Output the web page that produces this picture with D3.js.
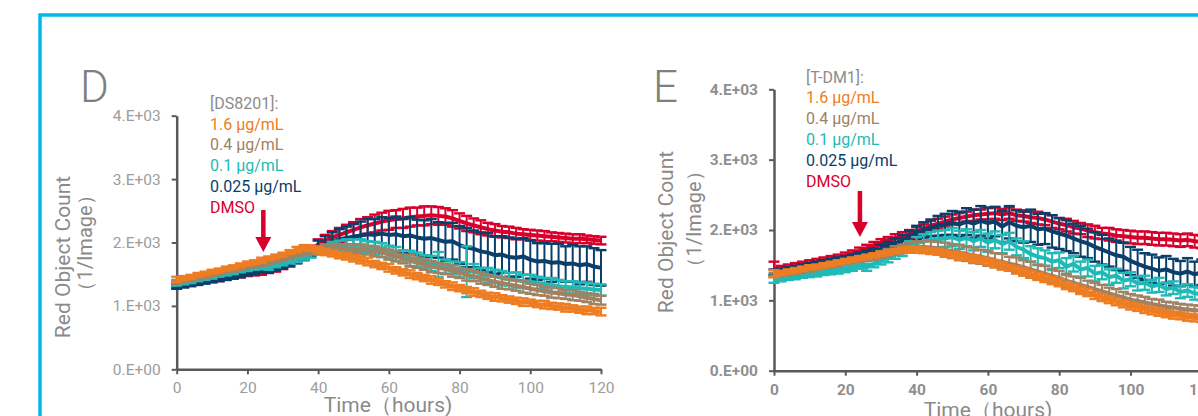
<!DOCTYPE html>
<html>
<head>
<meta charset="utf-8">
<script src="https://cdn.jsdelivr.net/npm/d3@7"></script>
<style>
  html, body { margin: 0; padding: 0; background: #fff; overflow: hidden; }
  svg { display: block; font-family: Roboto, "Noto Sans", sans-serif; }
</style>
</head>
<body>
<svg width="1198" height="416"></svg>
<script>
// sampling times (hours)
const hours = [0,2,4,6,8,10,12,14,16,18,20,22,24,26,28,30,32,34,36,38,40,42,44,46,48,50,
  52,54,56,58,60,62,64,66,68,70,72,74,76,78,80,82,84,86,88,90,92,94,96,98,100,102,104,106,
  108,110,112,114,116,118,120];

const yTicks = [0, 1, 2, 3, 4];           // x 1E+03
const xTicks = [0, 20, 40, 60, 80, 100, 120];

const doseLabels = ["1.6 \u00b5g/mL", "0.4 \u00b5g/mL", "0.1 \u00b5g/mL", "0.025 \u00b5g/mL", "DMSO"];
const doseColors = ["#EE7D22", "#A08263", "#1FBAB6", "#0A3F6C", "#D8002B"];

// ---- D: DS8201, red object count (x 1E+03 / image) ----
const ds16 = [1.42,1.44,1.46,1.49,1.51,1.54,1.56,1.59,1.61,1.64, 1.67,1.69,1.72,1.75,1.78,
  1.81,1.85,1.89,1.92,1.91, 1.88,1.85,1.83,1.80,1.78, 1.75,1.72,1.70,1.66,1.63,
  1.60,1.56,1.53,1.50,1.47, 1.44,1.41,1.38,1.34,1.31, 1.28,1.25,1.22,1.19,1.16,
  1.14,1.12,1.10,1.08,1.06, 1.05,1.03,1.02,1.00,0.99, 0.97,0.96,0.94,0.93,0.92, 0.91];
const ds04 = [1.38,1.40,1.42,1.45,1.47,1.50,1.52,1.55,1.57,1.60, 1.62,1.64,1.66,1.69,1.72,
  1.75,1.78,1.82,1.85,1.87, 1.88,1.90,1.91,1.91,1.90, 1.90,1.89,1.88,1.86,1.84,
  1.81,1.78,1.74,1.71,1.68, 1.65,1.62,1.60,1.58,1.55, 1.52,1.49,1.47,1.44,1.41,
  1.38,1.36,1.34,1.32,1.30, 1.27,1.25,1.23,1.21,1.20, 1.18,1.17,1.15,1.13,1.11, 1.09];
const ds01 = [1.35,1.37,1.39,1.42,1.44,1.46,1.49,1.51,1.53,1.56, 1.58,1.60,1.62,1.60,1.65,
  1.68,1.71,1.74,1.78,1.82, 1.87,1.90,1.93,1.95,1.96, 1.96,1.95,1.93,1.91,1.88,
  1.85,1.82,1.78,1.75,1.73, 1.70,1.67,1.65,1.62,1.60, 1.57,1.54,1.55,1.50,1.48,
  1.47,1.44,1.42,1.41,1.39, 1.38,1.36,1.35,1.33,1.31, 1.30,1.29,1.28,1.27,1.26, 1.25];
const ds0025 = [1.30,1.32,1.34,1.36,1.38,1.40,1.42,1.44,1.46,1.48, 1.51,1.53,1.57,1.56,1.60,
  1.64,1.68,1.73,1.79,1.86, 1.93,1.98,2.02,2.05,2.07, 2.09,2.11,2.13,2.12,2.14,
  2.12,2.13,2.10,2.11,2.08, 2.06,2.07,2.04,2.01,2.02, 1.96,1.92,1.90,1.86,1.84,
  1.80,1.81,1.77,1.76,1.78, 1.73,1.70,1.71,1.68,1.69, 1.66,1.67,1.64,1.66,1.62, 1.60];
const dsDmso = [1.32,1.33,1.35,1.37,1.39,1.41,1.42,1.44,1.46,1.48, 1.50,1.51,1.52,1.55,1.58,
  1.62,1.67,1.73,1.80,1.88, 1.97,2.03,2.08,2.12,2.16, 2.20,2.24,2.27,2.30,2.33,
  2.35,2.37,2.38,2.40,2.41, 2.42,2.43,2.42,2.41,2.38, 2.34,2.30,2.27,2.24,2.21,
  2.19,2.17,2.16,2.14,2.13, 2.12,2.11,2.10,2.09,2.08, 2.07,2.06,2.06,2.05,2.04, 2.03];

const ds16Err = [0.04,0.03,0.03,0.03,0.03,0.03,0.03,0.03,0.03,0.03, 0.03,0.03,0.04,0.03,0.03,
  0.03,0.03,0.04,0.04,0.04, 0.05,0.05,0.05,0.05,0.05, 0.05,0.05,0.06,0.05,0.05,
  0.06,0.05,0.05,0.06,0.05, 0.05,0.06,0.05,0.05,0.06, 0.05,0.05,0.06,0.05,0.05,
  0.06,0.05,0.05,0.05,0.06, 0.05,0.05,0.06,0.05,0.05, 0.06,0.05,0.05,0.06,0.05, 0.06];
const ds04Err = [0.03,0.03,0.03,0.03,0.03,0.03,0.03,0.03,0.03,0.03, 0.03,0.03,0.03,0.03,0.04,
  0.04,0.04,0.04,0.05,0.05, 0.06,0.06,0.07,0.06,0.07, 0.07,0.08,0.07,0.08,0.07,
  0.08,0.08,0.07,0.09,0.08, 0.08,0.09,0.08,0.08,0.09, 0.08,0.09,0.08,0.09,0.08,
  0.08,0.09,0.08,0.08,0.09, 0.08,0.08,0.07,0.08,0.08, 0.07,0.08,0.07,0.07,0.08, 0.07];
const ds01Err = [0.03,0.03,0.03,0.03,0.03,0.03,0.03,0.03,0.03,0.03, 0.03,0.03,0.04,0.03,0.04,
  0.04,0.04,0.05,0.05,0.06, 0.06,0.07,0.08,0.08,0.09, 0.09,0.10,0.09,0.10,0.11,
  0.10,0.11,0.10,0.12,0.11, 0.10,0.12,0.20,0.11,0.10, 0.12,0.40,0.11,0.10,0.12,
  0.10,0.11,0.10,0.12,0.10, 0.11,0.10,0.09,0.11,0.10, 0.09,0.10,0.09,0.10,0.09, 0.09];
const ds0025Err = [0.03,0.03,0.03,0.03,0.03,0.03,0.03,0.03,0.03,0.03, 0.03,0.03,0.04,0.04,0.04,
  0.05,0.05,0.06,0.07,0.08, 0.10,0.12,0.14,0.16,0.18, 0.20,0.22,0.24,0.25,0.26,
  0.27,0.28,0.27,0.29,0.28, 0.29,0.30,0.28,0.30,0.29, 0.30,0.31,0.29,0.30,0.31,
  0.30,0.29,0.31,0.30,0.29, 0.30,0.29,0.28,0.30,0.29, 0.28,0.29,0.30,0.28,0.29, 0.28];
const dsDmsoErr = [0.03,0.03,0.03,0.03,0.03,0.03,0.03,0.03,0.03,0.03, 0.03,0.03,0.03,0.03,0.04,
  0.04,0.05,0.05,0.06,0.07, 0.08,0.09,0.10,0.11,0.12, 0.12,0.13,0.13,0.14,0.14,
  0.15,0.14,0.15,0.15,0.14, 0.15,0.14,0.14,0.13,0.13, 0.12,0.12,0.11,0.11,0.10,
  0.10,0.09,0.09,0.09,0.08, 0.08,0.08,0.08,0.07,0.07, 0.07,0.07,0.07,0.06,0.06, 0.06];

// ---- E: T-DM1 ----
const td16 = [1.38,1.39,1.41,1.43,1.45,1.47,1.48,1.50,1.52,1.54, 1.56,1.58,1.60,1.62,1.64,
  1.66,1.68,1.70,1.72,1.72, 1.72,1.71,1.70,1.69,1.67, 1.65,1.63,1.61,1.59,1.57,
  1.55,1.52,1.49,1.46,1.43, 1.40,1.37,1.34,1.31,1.28, 1.25,1.21,1.18,1.14,1.11,
  1.07,1.04,1.01,0.98,0.95, 0.92,0.90,0.87,0.85,0.83, 0.81,0.79,0.78,0.76,0.75, 0.74];
const td04 = [1.36,1.37,1.39,1.40,1.42,1.44,1.46,1.48,1.50,1.52, 1.54,1.56,1.58,1.60,1.62,
  1.65,1.68,1.71,1.73,1.75, 1.76,1.76,1.75,1.74,1.72, 1.70,1.68,1.66,1.64,1.62,
  1.60,1.57,1.55,1.52,1.50, 1.47,1.44,1.41,1.38,1.35, 1.32,1.28,1.25,1.22,1.19,
  1.16,1.13,1.10,1.07,1.04, 1.01,0.99,0.97,0.95,0.93, 0.91,0.90,0.88,0.87,0.86, 0.85];
const td01 = [1.30,1.31,1.33,1.34,1.36,1.37,1.38,1.40,1.41,1.42, 1.44,1.46,1.50,1.47,1.52,
  1.56,1.60,1.65,1.70,1.76, 1.81,1.84,1.86,1.87,1.88, 1.90,1.86,1.89,1.84,1.88,
  1.82,1.86,1.80,1.84,1.76, 1.72,1.66,1.62,1.60,1.55, 1.57,1.48,1.52,1.44,1.46,
  1.38,1.40,1.33,1.35,1.28, 1.30,1.24,1.25,1.20,1.22, 1.16,1.18,1.12,1.14,1.10, 1.09];
const td0025 = [1.40,1.41,1.43,1.45,1.47,1.49,1.51,1.53,1.55,1.57, 1.59,1.61,1.63,1.66,1.69,
  1.73,1.77,1.81,1.85,1.90, 1.96,2.00,2.03,2.06,2.08, 2.10,2.08,2.12,2.09,2.13,
  2.10,2.12,2.05,2.11,2.06, 2.04,2.06,2.01,2.02,1.98, 1.95,1.92,1.88,1.84,1.81,
  1.76,1.72,1.68,1.64,1.62, 1.56,1.52,1.48,1.45,1.42, 1.44,1.40,1.38,1.41,1.37, 1.40];
const tdDmso = [1.45,1.44,1.46,1.48,1.50,1.52,1.54,1.56,1.58,1.60, 1.63,1.66,1.70,1.74,1.78,
  1.82,1.85,1.88,1.91,1.94, 1.98,2.02,2.06,2.09,2.12, 2.15,2.17,2.19,2.21,2.22,
  2.23,2.24,2.22,2.24,2.21, 2.20,2.18,2.17,2.15,2.12, 2.09,2.07,2.04,2.02,1.99,
  1.97,1.95,1.94,1.92,1.91, 1.90,1.89,1.89,1.88,1.87, 1.87,1.86,1.85,1.86,1.84, 1.83];

const td16Err = [0.05,0.03,0.03,0.03,0.03,0.03,0.03,0.03,0.03,0.03, 0.03,0.03,0.03,0.03,0.03,
  0.03,0.03,0.03,0.03,0.04, 0.04,0.04,0.04,0.04,0.04, 0.04,0.05,0.04,0.05,0.04,
  0.05,0.05,0.05,0.04,0.05, 0.05,0.05,0.05,0.05,0.05, 0.05,0.05,0.05,0.05,0.05,
  0.05,0.05,0.05,0.05,0.05, 0.05,0.05,0.05,0.05,0.05, 0.05,0.05,0.05,0.05,0.05, 0.05];
const td04Err = [0.03,0.03,0.03,0.03,0.03,0.03,0.03,0.03,0.03,0.03, 0.03,0.03,0.04,0.04,0.04,
  0.05,0.05,0.06,0.06,0.07, 0.08,0.08,0.09,0.09,0.10, 0.10,0.11,0.10,0.11,0.10,
  0.11,0.10,0.11,0.10,0.11, 0.10,0.11,0.10,0.11,0.10, 0.10,0.10,0.09,0.10,0.09,
  0.09,0.09,0.08,0.09,0.08, 0.08,0.08,0.08,0.07,0.08, 0.07,0.07,0.07,0.07,0.07, 0.07];
const td01Err = [0.05,0.04,0.04,0.04,0.04,0.04,0.04,0.04,0.04,0.04, 0.04,0.04,0.05,0.05,0.05,
  0.05,0.06,0.06,0.07,0.08, 0.09,0.10,0.11,0.12,0.12, 0.13,0.13,0.12,0.13,0.12,
  0.13,0.12,0.13,0.12,0.12, 0.12,0.11,0.12,0.11,0.12, 0.11,0.12,0.11,0.11,0.12,
  0.11,0.10,0.11,0.10,0.11, 0.10,0.10,0.10,0.09,0.10, 0.09,0.09,0.09,0.09,0.09, 0.09];
const td0025Err = [0.04,0.04,0.04,0.04,0.04,0.04,0.04,0.04,0.04,0.04, 0.04,0.04,0.05,0.05,0.05,
  0.06,0.06,0.07,0.08,0.09, 0.10,0.11,0.12,0.14,0.15, 0.17,0.18,0.19,0.20,0.21,
  0.22,0.21,0.22,0.23,0.22, 0.22,0.23,0.22,0.22,0.23, 0.22,0.22,0.21,0.22,0.21,
  0.21,0.21,0.20,0.21,0.20, 0.20,0.20,0.19,0.20,0.19, 0.19,0.19,0.18,0.19,0.18, 0.18];
const tdDmsoErr = [0.10,0.05,0.05,0.05,0.05,0.05,0.05,0.05,0.05,0.05, 0.05,0.05,0.05,0.05,0.05,
  0.05,0.05,0.06,0.06,0.06, 0.06,0.06,0.07,0.07,0.07, 0.07,0.07,0.07,0.08,0.07,
  0.08,0.08,0.08,0.08,0.08, 0.08,0.08,0.09,0.08,0.09, 0.08,0.09,0.09,0.08,0.09,
  0.09,0.08,0.09,0.09,0.09, 0.09,0.09,0.09,0.09,0.09, 0.09,0.09,0.09,0.09,0.09, 0.09];

const svg = d3.select("svg");

// cyan frame
svg.append("rect")
  .attr("x", 40).attr("y", 15)
  .attr("width", 1300).attr("height", 500)
  .attr("fill", "none")
  .attr("stroke", "#00B9E8")
  .attr("stroke-width", 3.5);

function fmtTick(d) {
  return d === 0 ? "0.E+00" : d + ".E+03";
}

function drawPanel(p) {
  let x = d3.scaleLinear().domain([0, 120]).range([p.left, p.right]),
    y = d3.scaleLinear().domain([0, 4]).range([p.bottom, p.top]);

  let g = svg.append("g");

  // panel letter
  g.append("text")
    .attr("x", p.letterX).attr("y", p.letterY)
    .attr("font-size", 44).attr("font-weight", 300)
    .attr("fill", "#7f7f7f")
    .text(p.letter);

  // axes
  let yAxis = g.append("g")
    .attr("transform", "translate(" + p.left + ",0)")
    .call(d3.axisLeft(y).tickValues(yTicks).tickFormat(fmtTick).tickSizeInner(5).tickSizeOuter(0).tickPadding(11));
  let xAxis = g.append("g")
    .attr("transform", "translate(0," + p.bottom + ")")
    .call(d3.axisBottom(x).tickValues(xTicks).tickSizeInner(5).tickSizeOuter(0).tickPadding(8));

  [yAxis, xAxis].forEach(a => {
    a.select(".domain").attr("stroke", "#595959").attr("stroke-width", 2.5);
    a.selectAll(".tick line").attr("stroke", "#595959").attr("stroke-width", 2);
    a.selectAll("text")
      .attr("fill", p.tickColor)
      .attr("font-size", 15.5)
      .attr("font-weight", p.tickWeight)
      .attr("font-family", "Roboto, sans-serif");
  });

  // axis titles
  g.append("text")
    .attr("transform", "translate(" + p.yTitleX1 + "," + p.yTitleY1 + ") rotate(-90)")
    .attr("text-anchor", "middle")
    .attr("font-size", 21).attr("fill", "#8a8a8a")
    .text("Red Object Count");
  g.append("text")
    .attr("transform", "translate(" + p.yTitleX2 + "," + p.yTitleY2 + ") rotate(-90)")
    .attr("text-anchor", "middle")
    .attr("font-size", 20).attr("fill", "#8a8a8a")
    .text("\uff081/Image\uff09");
  g.append("text")
    .attr("x", p.xTitleX).attr("y", p.xTitleY)
    .attr("text-anchor", "middle")
    .attr("font-size", 21).attr("fill", "#8a8a8a")
    .text("Time\uff08hours)");

  // series: DMSO drawn first, 1.6 µg/mL last
  let line = d3.line()
    .x((d, i) => x(hours[i]))
    .y(d => y(d));

  let order = [4, 3, 2, 1, 0];
  order.forEach(k => {
    let means = p.means[k], errs = p.errs[k], col = doseColors[k];
    let s = g.append("g").attr("stroke", col);

    let bars = s.selectAll(".eb")
      .data(means.map((m, i) => ({ t: hours[i], m: m, e: errs[i] })))
      .enter().append("g")
      .attr("class", "eb");
    bars.append("line")
      .attr("x1", d => x(d.t)).attr("x2", d => x(d.t))
      .attr("y1", d => y(d.m - d.e)).attr("y2", d => y(d.m + d.e))
      .attr("stroke-width", 2);
    bars.append("line")
      .attr("x1", d => x(d.t) - 5.5).attr("x2", d => x(d.t) + 5.5)
      .attr("y1", d => y(d.m + d.e)).attr("y2", d => y(d.m + d.e))
      .attr("stroke-width", 2.4);
    bars.append("line")
      .attr("x1", d => x(d.t) - 5.5).attr("x2", d => x(d.t) + 5.5)
      .attr("y1", d => y(d.m - d.e)).attr("y2", d => y(d.m - d.e))
      .attr("stroke-width", 2.4);

    s.append("path")
      .attr("d", line(means))
      .attr("fill", "none")
      .attr("stroke-width", 4)
      .attr("stroke-linejoin", "round");
  });

  // red arrow at drug addition
  let ax = x(p.arrowT), ay = y(p.arrowV);
  g.append("line")
    .attr("x1", ax).attr("x2", ax)
    .attr("y1", ay - p.arrowLen).attr("y2", ay - 12)
    .attr("stroke", "#D8002B").attr("stroke-width", 4.5);
  g.append("path")
    .attr("d", "M" + (ax - 8) + "," + (ay - 15) + "L" + (ax + 8) + "," + (ay - 15) + "L" + ax + "," + ay + "Z")
    .attr("fill", "#D8002B");

  // legend
  let leg = g.append("g").attr("font-size", 16);
  leg.append("text")
    .attr("x", p.legX).attr("y", p.legY)
    .attr("fill", "#8c8c8c")
    .text(p.drug);
  doseLabels.forEach((lab, i) => {
    leg.append("text")
      .attr("x", p.legX).attr("y", p.legY + (i + 1) * 20.8)
      .attr("fill", doseColors[i])
      .text(lab);
  });
}

drawPanel({
  letter: "D", letterX: 80, letterY: 101.5,
  left: 176.7, right: 601, top: 115.7, bottom: 369.3,
  tickColor: "#9c9c9c", tickWeight: 400,
  yTitleX1: 70, yTitleY1: 257, yTitleX2: 92, yTitleY2: 243,
  xTitleX: 388, xTitleY: 411.5,
  drug: "[DS8201]:", legX: 210, legY: 108.8,
  means: [ds16, ds04, ds01, ds0025, dsDmso],
  errs: [ds16Err, ds04Err, ds01Err, ds0025Err, dsDmsoErr],
  arrowT: 24.5, arrowV: 1.85, arrowLen: 42
});

drawPanel({
  letter: "E", letterX: 653, letterY: 101.5,
  left: 774, right: 1201.8, top: 89.3, bottom: 370.7,
  tickColor: "#8f8f8f", tickWeight: 700,
  yTitleX1: 673, yTitleY1: 232, yTitleX2: 701, yTitleY2: 219,
  xTitleX: 988, xTitleY: 416.5,
  drug: "[T-DM1]:", legX: 806, legY: 82.6,
  means: [td16, td04, td01, td0025, tdDmso],
  errs: [td16Err, td04Err, td01Err, td0025Err, tdDmsoErr],
  arrowT: 24.1, arrowV: 1.9, arrowLen: 46
});
</script>
</body>
</html>
